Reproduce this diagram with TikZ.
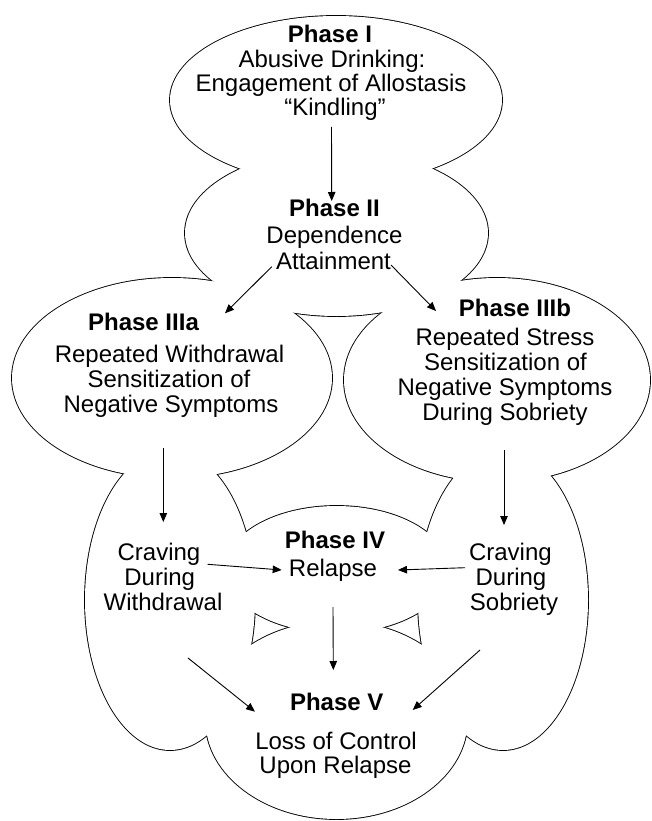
\documentclass[tikz,border=0pt]{standalone}
\usepackage{fontspec}
\setmainfont{Liberation Sans}
\usetikzlibrary{arrows.meta}
\begin{document}
\begin{tikzpicture}[x=1pt,y=-1pt,
  txt/.style={inner sep=0pt, anchor=base, font=\fontsize{24}{26}\selectfont},
  ttl/.style={inner sep=0pt, anchor=base, font=\fontsize{24}{26}\selectfont\bfseries},
  arr/.style={-{Triangle[length=9pt,width=7.5pt]}, line width=0.9pt},
  outline/.style={line width=1.8pt, draw=black},
  cloudfill/.style={fill=white},
]
\useasboundingbox (0,0) rectangle (652,821);
% cloud outline: union of ellipses (draw thick, then fill white)
\foreach \cx/\cy/\rx/\ry in {336/100/166/84, 336.5/233/151.5/83, 172/378/160/100, 497/380/153/102, 170/600/85/150, 503/600/85/150, 336.5/569.5/111.5/63.5, 336.5/720/131/99}
  \path[outline] (\cx,\cy) ellipse [x radius=\rx pt, y radius=\ry pt];
\foreach \cx/\cy/\rx/\ry in {336/100/166/84, 336.5/233/151.5/83, 172/378/160/100, 497/380/153/102, 170/600/85/150, 503/600/85/150, 336.5/569.5/111.5/63.5, 336.5/720/131/99}
  \path[cloudfill] (\cx,\cy) ellipse [x radius=\rx pt, y radius=\ry pt];

% Phase I
\node[ttl] (p1) at (330,43) {Phase I};
\node[txt] (p1a) at (332,68) {Abusive Drinking:};
\node[txt] (p1b) at (331,92) {Engagement of Allostasis};
\node[txt] (p1c) at (335,116) {“Kindling”};
% Phase II
\node[ttl] (p2) at (334.5,216) {Phase II};
\node[txt] (p2a) at (334.5,243) {Dependence};
\node[txt] (p2b) at (333.5,269) {Attainment};
% Phase IIIa
\node[ttl] (p3a) at (143.5,330) {Phase IIIa};
\node[txt] (p3a1) at (169.5,362) {Repeated Withdrawal};
\node[txt] (p3a2) at (169,387) {Sensitization of};
\node[txt] (p3a3) at (171,412) {Negative Symptoms};
% Phase IIIb
\node[ttl] (p3b) at (515,316) {Phase IIIb};
\node[txt] (p3b1) at (505,345) {Repeated Stress};
\node[txt] (p3b2) at (505.5,370) {Sensitization of};
\node[txt] (p3b3) at (505,395) {Negative Symptoms};
\node[txt] (p3b4) at (505,420) {During Sobriety};
% Craving left
\node[txt] (cw1) at (159,560) {Craving};
\node[txt] (cw2) at (159.7,585) {During};
\node[txt] (cw3) at (163,610) {Withdrawal};
% Craving right
\node[txt] (cs1) at (510.4,560) {Craving};
\node[txt] (cs2) at (511,585) {During};
\node[txt] (cs3) at (514,610) {Sobriety};
% Phase IV
\node[ttl] (p4) at (335,548) {Phase IV};
\node[txt] (p4a) at (333,576) {Relapse};
% Phase V
\node[ttl] (p5) at (336.7,710) {Phase V};
\node[txt] (p5a) at (336,749) {Loss of Control};
\node[txt] (p5b) at (335.5,773) {Upon Relapse};

% arrow end points
\coordinate (a1s) at (331.5,127);   \coordinate (a1e) at (331.7,201);
\coordinate (a2s) at (271.7,266.7); \coordinate (a2e) at (225,313.3);
\coordinate (a3s) at (391,265);     \coordinate (a3e) at (436,311);
\coordinate (a4s) at (163.3,448);   \coordinate (a4e) at (163.3,522);
\coordinate (a5s) at (504,450);     \coordinate (a5e) at (504,525);
\coordinate (a6s) at (207.7,564.3); \coordinate (a6e) at (281.7,570);
\coordinate (a7s) at (465,567.7);   \coordinate (a7e) at (398,570);
\coordinate (a8s) at (333,607);     \coordinate (a8e) at (333.3,670);
\coordinate (a9s) at (188,658);     \coordinate (a9e) at (255,711.7);
\coordinate (a10s) at (480,650);    \coordinate (a10e) at (412.7,710);

\draw[arr] (a1s) -- (a1e);
\draw[arr] (a2s) -- (a2e);
\draw[arr] (a3s) -- (a3e);
\draw[arr] (a4s) -- (a4e);
\draw[arr] (a5s) -- (a5e);
\draw[arr] (a6s) -- (a6e);
\draw[arr] (a7s) -- (a7e);
\draw[arr] (a8s) -- (a8e);
\draw[arr] (a9s) -- (a9e);
\draw[arr] (a10s) -- (a10e);
\end{tikzpicture}
\end{document}
